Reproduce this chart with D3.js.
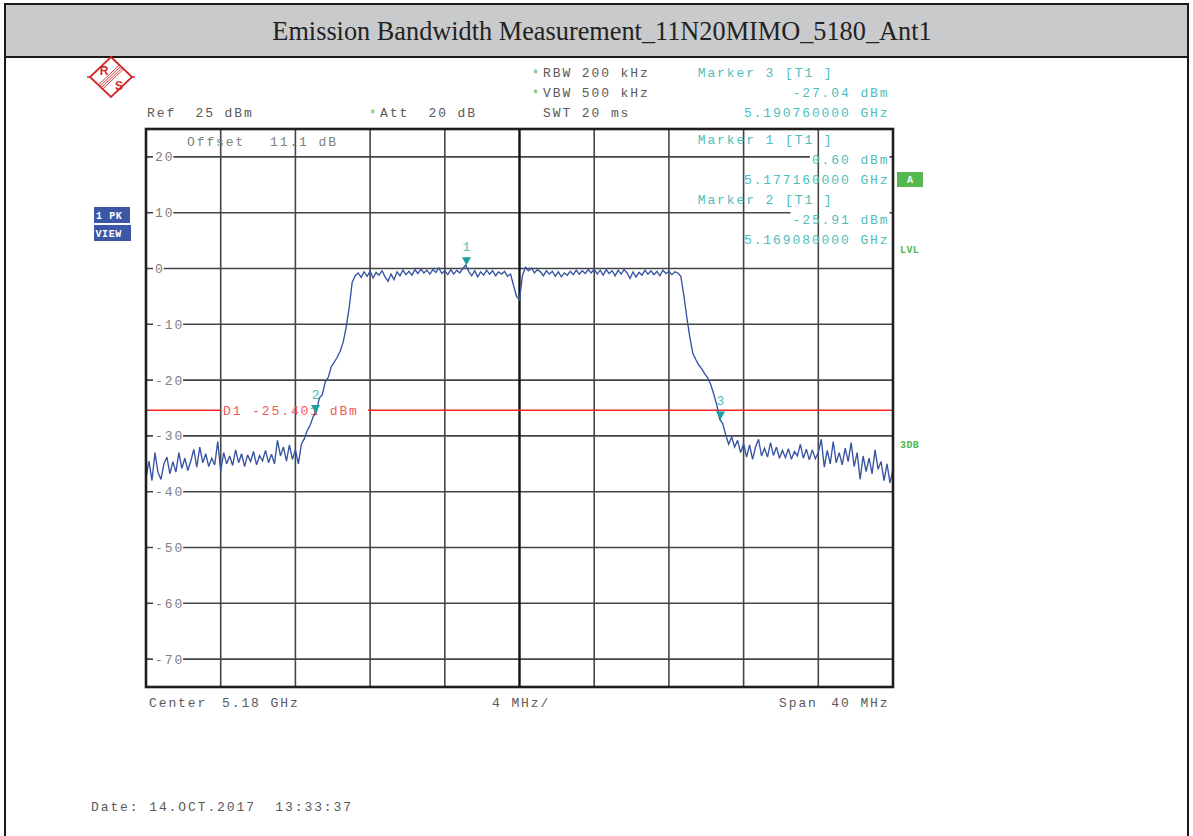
<!DOCTYPE html>
<html>
<head>
<meta charset="utf-8">
<script src="https://cdn.jsdelivr.net/npm/d3@7"></script>
<style>
  html, body { margin: 0; padding: 0; background: #fff; }
  svg { display: block; }
  text { white-space: pre; }
  .mono { font-family: "Liberation Mono", "DejaVu Sans Mono", monospace; font-size: 13px; letter-spacing: 1.9px; }
  .badge { font-family: "Liberation Mono", monospace; font-size: 10px; font-weight: bold; }
</style>
</head>
<body>
<svg id="chart" width="1193" height="836"></svg>
<script>
// ---- measurement settings ----
const title = "Emission Bandwidth Measurement_11N20MIMO_5180_Ant1";
const centerGHz = 5.18;
const spanGHz = 0.04;
const refLevel = 25;
const bottomLevel = -75;
const levelTicks = [20, 10, 0, -10, -20, -30, -40, -50, -60, -70];
const freqDivisions = 10;

// ---- trace (dBm), equally spaced sweep points across the span ----
const traceLevels = [
  -37.5, -34.5, -38.0, -33.0, -36.5, -37.8, -35.0, -33.8, -36.8, -34.6,
  -36.5, -33.0, -35.8, -34.0, -36.2, -34.5, -32.4, -35.6, -32.0, -34.8,
  -33.2, -35.5, -34.0, -35.2, -31.0, -36.3, -33.0, -35.0, -33.6, -35.3,
  -32.5, -34.8, -33.2, -35.5, -33.4, -34.6, -32.8, -35.2, -33.5, -34.5,
  -32.6, -34.8, -33.3, -35.0, -30.8, -33.6, -32.0, -34.5, -31.6, -34.2,
  -32.5, -35.0, -31.5, -30.5, -29.0, -28.0, -26.5, -25.8, -23.2, -22.6,
  -20.3, -19.5, -17.6, -16.8, -15.9, -14.8, -13.2, -10.5, -7.0, -2.5,
  -1.3, -0.8, -1.6, -0.6, -1.4, -0.5, -1.7, -0.7, -1.2, -0.4,
  -1.5, -2.3, -1.0, -2.0, -0.6, -1.3, -0.3, -1.1, -0.5, -1.2,
  -0.2, -0.9, -0.1, -0.8, -0.3, -1.0, -0.2, -0.7, 0.1, -0.9,
  -0.4, -1.1, -0.2, -1.0, -0.3, -0.8, 0.0, 0.6, -0.5, -1.3,
  -0.4, -1.5, -0.6, -1.2, -0.3, -1.0, -0.4, -1.3, -0.6, -1.0,
  -0.5, -1.4, -1.0, -3.0, -5.0, -5.6, -1.2, 0.2, -0.4, 0.1,
  -0.8, -0.2, -0.6, -1.3, -0.4, -1.0, -0.5, -1.4, -0.6, -1.5,
  -0.8, -1.2, -0.5, -1.1, -0.3, -1.0, -0.4, -0.9, -0.2, -0.8,
  -0.1, -1.0, -0.3, -1.2, -0.2, -0.9, -0.4, -1.3, -0.3, -1.0,
  -0.2, -0.8, -1.8, -0.6, -1.5, -0.7, -1.2, -0.3, -1.0, -0.4,
  -1.1, -0.5, -1.3, -0.3, -0.9, -0.5, -1.1, -0.6, -0.8, -1.4,
  -4.8, -8.8, -12.3, -15.2, -16.3, -17.3, -18.0, -18.9, -19.6, -20.8,
  -22.5, -24.4, -27.0, -27.8, -29.8, -31.5, -30.2, -32.0, -30.8, -33.0,
  -31.4, -33.8, -31.6, -34.2, -32.0, -30.6, -33.6, -32.2, -33.8, -31.2,
  -33.5, -32.0, -34.0, -32.6, -33.9, -32.3, -34.2, -32.8, -33.6, -31.5,
  -34.0, -32.4, -34.3, -32.5, -34.1, -33.0, -30.6, -35.6, -32.6, -35.0,
  -31.0, -34.8, -33.0, -35.2, -32.2, -34.6, -31.2, -35.5, -33.0, -37.8,
  -33.6, -36.4, -34.0, -36.8, -32.5, -36.0, -34.6, -38.0, -35.0, -38.4, -36.0
];

// ---- markers ----
const markerIds = [1, 2, 3];
const markerFreqs = [5.17716, 5.16908, 5.19076];
const markerLevels = [0.60, -25.91, -27.04];
const markerListOrder = [3, 1, 2];

// ---- display line ----
const displayLineName = "D1";
const displayLineLevel = -25.401;

// ---- layout ----
const W = 1193, H = 836;
const plot = { left: 146, right: 893, top: 129, bottom: 687 };
const C = {
  text: "#5a5a5a", axis: "#808080", grid: "#454545", frame: "#1e1e1e",
  trace: "#3653a3", marker: "#17a0a0", markerText: "#4dbebe",
  star: "#55b84e", green: "#55b84e", badge: "#3d57a7",
  red: "#ff2020", redText: "#f05a5a", header: "#c9cacc", logo: "#d02828"
};

const svg = d3.select("#chart");
svg.append("rect").attr("width", W).attr("height", H).attr("fill", "#fff");

const x = d3.scaleLinear()
  .domain([centerGHz - spanGHz / 2, centerGHz + spanGHz / 2])
  .range([plot.left, plot.right]);
const y = d3.scaleLinear().domain([bottomLevel, refLevel]).range([plot.bottom, plot.top]);

function txt(g, px, py, s, opts = {}) {
  return g.append("text")
    .attr("class", opts.cls || "mono")
    .attr("x", px).attr("y", py)
    .attr("fill", opts.fill || C.text)
    .attr("text-anchor", opts.anchor || "start")
    .style("letter-spacing", opts.ls != null ? opts.ls + "px" : null)
    .style("font-size", opts.size ? opts.size + "px" : null)
    .style("font-weight", opts.weight || null)
    .text(s);
}

// ---- page frame and header ----
svg.append("rect").attr("x", 5).attr("y", 4).attr("width", 1183).attr("height", 53)
  .attr("fill", C.header);
svg.append("line").attr("x1", 5).attr("x2", 1188).attr("y1", 57).attr("y2", 57)
  .attr("stroke", "#1a1a1a").attr("stroke-width", 2);
svg.append("rect").attr("x", 5).attr("y", 4).attr("width", 1183).attr("height", 840)
  .attr("fill", "none").attr("stroke", "#1a1a1a").attr("stroke-width", 2);
svg.append("text").attr("x", 602).attr("y", 40).attr("text-anchor", "middle")
  .style("font-family", "'Liberation Serif', 'Times New Roman', serif")
  .style("font-size", "26.3px").attr("fill", "#222").text(title);

// ---- R&S logo ----
const logo = svg.append("g").attr("transform", "translate(111,77)")
  .attr("stroke", C.logo).attr("fill", "none");
logo.append("path").attr("d", "M0,-20 L21,0 L0,20 L-21,0 Z").attr("stroke-width", 1.8);
logo.append("line").attr("x1", -24).attr("y1", 0).attr("x2", -21).attr("y2", 0).attr("stroke-width", 1.4);
logo.append("line").attr("x1", 21).attr("y1", 0).attr("x2", 24).attr("y2", 0).attr("stroke-width", 1.4);
[-3, -1, 1, 3].forEach(o => {
  logo.append("line")
    .attr("x1", -10.5 + o * 0.7).attr("y1", 10 + o * 0.7)
    .attr("x2", 10.5 + o * 0.7).attr("y2", -10 + o * 0.7)
    .attr("stroke-width", 0.9);
});
logo.append("text").attr("x", -7).attr("y", -2).attr("text-anchor", "middle")
  .attr("fill", C.logo).attr("stroke", "none")
  .style("font-family", "'Liberation Sans', sans-serif").style("font-size", "12px").style("font-weight", "bold")
  .text("R");
logo.append("text").attr("x", 8).attr("y", 13).attr("text-anchor", "middle")
  .attr("fill", C.logo).attr("stroke", "none")
  .style("font-family", "'Liberation Sans', sans-serif").style("font-size", "12px").style("font-weight", "bold")
  .text("S");

// ---- instrument settings ----
const settingsG = svg.append("g");
txt(settingsG, 532, 78, "*", { fill: C.star, ls: 0, size: 12 });
txt(settingsG, 543, 77, "RBW 200 kHz");
txt(settingsG, 532, 98, "*", { fill: C.star, ls: 0, size: 12 });
txt(settingsG, 543, 97, "VBW 500 kHz");
txt(settingsG, 543, 117, "SWT 20 ms");
txt(settingsG, 147, 117, "Ref  " + refLevel + " dBm");
txt(settingsG, 369, 118, "*", { fill: C.star, ls: 0, size: 12 });
txt(settingsG, 380, 117, "Att  20 dB");

// ---- plot grid ----
const grid = svg.append("g");
grid.append("rect").attr("x", plot.left).attr("y", plot.top)
  .attr("width", plot.right - plot.left).attr("height", plot.bottom - plot.top).attr("fill", "#fff");

grid.selectAll("line.h").data(levelTicks).join("line").attr("class", "h")
  .attr("x1", plot.left).attr("x2", plot.right)
  .attr("y1", d => y(d)).attr("y2", d => y(d))
  .attr("stroke", C.grid).attr("stroke-width", 1.6);

// white backing behind readout rows that sit on grid lines (filled in below)
const infoBg = svg.append("g");

const freqTicks = d3.range(1, freqDivisions).map(k => x.domain()[0] + k * spanGHz / freqDivisions);
const vg = svg.append("g");
vg.selectAll("line").data(freqTicks).join("line")
  .attr("x1", d => x(d)).attr("x2", d => x(d))
  .attr("y1", plot.top).attr("y2", plot.bottom)
  .attr("stroke", (d, i) => i === 4 ? "#111" : C.grid)
  .attr("stroke-width", (d, i) => i === 4 ? 2.4 : 1.6);

// level labels on the left edge
const yl = svg.append("g");
levelTicks.forEach(v => {
  const s = String(v);
  const w = s.length * 9.7 + 1;
  yl.append("rect").attr("x", 153).attr("y", y(v) - 6).attr("width", w).attr("height", 12).attr("fill", "#fff");
  txt(yl, 155, y(v) + 4.5, s, { fill: C.axis });
});

txt(svg, 187, 146, "Offset", { fill: C.axis });
txt(svg, 270, 146, "11.1 dB", { fill: C.axis });

// ---- marker readout ----
const info = svg.append("g");
markerListOrder.forEach((id, k) => {
  const m = markerIds.indexOf(id);
  const y0 = [72, 139, 199][k];
  txt(info, 697.7, y0 + 4.5, "Marker " + id + " [T1 ]", { fill: C.markerText });
  const lv = txt(info, 889.5, y0 + 24.5, markerLevels[m].toFixed(2) + " dBm", { fill: C.markerText, anchor: "end" });
  txt(info, 889.5, y0 + 44.5, markerFreqs[m].toFixed(9) + " GHz", { fill: C.markerText, anchor: "end" });
  if (k > 0) {
    const bb = lv.node().getBBox();
    infoBg.append("rect").attr("x", bb.x - 2).attr("y", y0 + 12).attr("width", bb.width + 2)
      .attr("height", 16).attr("fill", "#fff");
  }
});

// ---- display line ----
const dY = y(displayLineLevel);
const dl = svg.append("g");
dl.append("line").attr("x1", plot.left).attr("x2", 221).attr("y1", dY).attr("y2", dY)
  .attr("stroke", C.red).attr("stroke-width", 1.4);
dl.append("line").attr("x1", 368).attr("x2", plot.right).attr("y1", dY).attr("y2", dY)
  .attr("stroke", C.red).attr("stroke-width", 1.4);
txt(dl, 223, dY + 4.5, displayLineName + " " + displayLineLevel.toFixed(3) + " dBm", { fill: C.redText });

// ---- trace ----
const n = traceLevels.length;
const f0 = x.domain()[0];
const line = d3.line()
  .x((d, i) => x(f0 + i * spanGHz / (n - 1)))
  .y(d => y(d));
svg.append("path").datum(traceLevels).attr("d", line)
  .attr("fill", "none").attr("stroke", C.trace).attr("stroke-width", 1.35)
  .attr("stroke-linejoin", "miter").attr("stroke-miterlimit", 3);

// ---- markers on the trace ----
const mk = svg.append("g");
markerIds.forEach((id, m) => {
  const mx = x(markerFreqs[m]), my = y(markerLevels[m]);
  mk.append("path").attr("d", `M${mx - 4.5},${my - 8} L${mx + 4.5},${my - 8} L${mx},${my} Z`)
    .attr("fill", C.marker);
  txt(mk, mx, my - 14, String(id), { fill: C.markerText, anchor: "middle", ls: 0 });
});

// ---- plot frame ----
svg.append("rect").attr("x", plot.left).attr("y", plot.top)
  .attr("width", plot.right - plot.left).attr("height", plot.bottom - plot.top)
  .attr("fill", "none").attr("stroke", C.frame).attr("stroke-width", 2.6);

// ---- side annotations ----
const side = svg.append("g");
side.append("rect").attr("x", 94).attr("y", 207).attr("width", 36).attr("height", 16).attr("fill", C.badge);
side.append("rect").attr("x", 94).attr("y", 225).attr("width", 37).attr("height", 16).attr("fill", C.badge);
txt(side, 96, 219, "1 PK", { cls: "badge", fill: "#fff", ls: 0.6 });
txt(side, 95.5, 237, "VIEW", { cls: "badge", fill: "#fff", ls: 0.6 });
side.append("rect").attr("x", 897).attr("y", 172).attr("width", 26).attr("height", 15).attr("fill", C.green);
txt(side, 910, 183, "A", { cls: "badge", fill: "#fff", anchor: "middle" });
txt(side, 900, 253, "LVL", { cls: "badge", fill: C.green, ls: 0.4 });
txt(side, 900, 448, "3DB", { cls: "badge", fill: C.green, ls: 0.4 });

// ---- bottom captions ----
const bot = svg.append("g");
txt(bot, 149, 706.5, "Center");
txt(bot, 222, 706.5, centerGHz + " GHz");
txt(bot, 492, 706.5, (spanGHz * 1000 / freqDivisions) + " MHz/");
txt(bot, 779, 706.5, "Span");
txt(bot, 889.5, 706.5, (spanGHz * 1000) + " MHz", { anchor: "end" });
txt(bot, 91, 810.5, "Date: 14.OCT.2017  13:33:37");
</script>
</body>
</html>
